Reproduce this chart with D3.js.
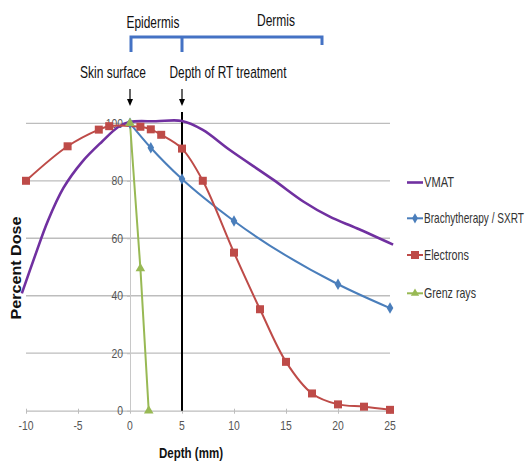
<!DOCTYPE html>
<html><head><meta charset="utf-8">
<script src="https://cdn.jsdelivr.net/npm/d3@7"></script>
<style>body{margin:0;background:#fff}svg{display:block}</style>
</head><body><svg id="c" width="528" height="462"></svg>
<script>
const xTicks = [-10,-5,0,5,10,15,20,25];
const yTicks = [0,20,40,60,80,100];
const seriesNames = ["VMAT","Brachytherapy / SXRT","Electrons","Grenz rays"];
const vmatX = [-10.4,-9.1,-7.9,-6.4,-4.6,-2.7,-1.1,0,2.5,5,7,9.6,13.8,16.7,19.2,21.8,25.3];
const vmatY = [40.8,54.2,66,77.5,86.6,93.6,98.8,100.5,100.7,100.8,97.7,90.7,80.3,72.7,67.5,63.5,57.8];
const brachyX = [0,2,5,10,20,25];
const brachyY = [100,91.5,80.6,66,44,35.7];
const electronX = [-10,-6,-3,-2,1,2,3,5,7,10,12.5,15,17.5,20,22.5,25];
const electronY = [80,92,97.8,99,98.8,97.9,96,91.2,80,55,35.3,17,6,2.2,1.4,0.3];
const grenzX = [0,1,1.8];
const grenzY = [100,49.5,0];
const topLabels = ["Epidermis","Dermis","Skin surface","Depth of RT treatment"];

const svg = d3.select("#c");
const x = d3.scaleLinear().domain([-10,25]).range([26,390]);
const y = d3.scaleLinear().domain([0,100]).range([410.7,123.3]);
const font = "'Liberation Sans',Arial,sans-serif";

// text squeezed horizontally to a target width via transform
function label(parent, tx, ty, str, size, width, anchor, opts){
  const g = parent.append("g");
  const t = g.append("text").attr("x",0).attr("y",0)
    .attr("font-family",font).attr("font-size",size).attr("text-anchor",anchor||"start")
    .attr("fill",(opts&&opts.fill)||"#111").attr("font-weight",(opts&&opts.bold)?"bold":"normal")
    .attr("dy",(opts&&opts.dy)||null).text(str);
  const w = t.node().getComputedTextLength();
  const k = width ? width/w : ((opts&&opts.k)||1);
  const rot = (opts&&opts.rot)?` rotate(${opts.rot})`:"";
  g.attr("transform",`translate(${tx},${ty})${rot} scale(${k},1)`);
  return g;
}

// gridlines
svg.append("g").selectAll("line").data(yTicks.filter(d=>d>0)).join("line")
  .attr("x1",x(-10)).attr("x2",x(25)).attr("y1",d=>y(d)).attr("y2",d=>y(d))
  .attr("stroke","#bdbdbd").attr("stroke-width",1.3);

// x axis at y=0
const xa = svg.append("g").attr("transform",`translate(0,${y(0)})`)
  .call(d3.axisBottom(x).tickValues(xTicks).tickSize(4).tickSizeOuter(0).tickFormat(""));
xa.select(".domain").attr("stroke","#bdbdbd").attr("stroke-width",1.3);
xa.selectAll(".tick line").attr("stroke","#bdbdbd").attr("y1",-2).attr("y2",3);
xTicks.forEach(v=>label(svg, x(v), y(0)+19, String(v), 13, null, "middle", {fill:"#555", k:0.8}));

// y axis at x=0
const ya = svg.append("g").attr("transform",`translate(${x(0)},0)`)
  .call(d3.axisLeft(y).tickValues(yTicks).tickSize(3).tickSizeOuter(0).tickFormat(""));
ya.select(".domain").attr("stroke","#c8c8c8").attr("stroke-width",1);
ya.selectAll(".tick line").attr("stroke","#bdbdbd");
yTicks.forEach(v=>label(svg, x(0)-7, y(v), String(v), 13, null, "end", {fill:"#555", k:0.8, dy:"0.35em"}));

// vertical line at 5 mm
svg.append("line").attr("x1",x(5)).attr("x2",x(5)).attr("y1",112).attr("y2",y(0))
  .attr("stroke","#000").attr("stroke-width",2);

const line = d3.line().x(d=>x(d[0])).y(d=>y(d[1]));
const zip = (a,b)=>a.map((v,i)=>[v,b[i]]);
const colors = ["#7030a0","#4a7ebb","#be4b48","#98b954"];

svg.append("path").datum(zip(vmatX,vmatY)).attr("d",line.curve(d3.curveCatmullRom.alpha(0.5)))
  .attr("fill","none").attr("stroke",colors[0]).attr("stroke-width",2.6);
svg.append("path").datum(zip(brachyX,brachyY)).attr("d",line.curve(d3.curveMonotoneX))
  .attr("fill","none").attr("stroke",colors[1]).attr("stroke-width",2);
svg.append("path").datum(zip(electronX,electronY)).attr("d",line.curve(d3.curveCatmullRom))
  .attr("fill","none").attr("stroke",colors[2]).attr("stroke-width",2);
svg.append("path").datum(zip(grenzX,grenzY)).attr("d",line.curve(d3.curveLinear))
  .attr("fill","none").attr("stroke",colors[3]).attr("stroke-width",2);

// markers
svg.append("g").selectAll("path").data(zip(brachyX,brachyY)).join("path")
  .attr("d",d3.symbol(d3.symbolDiamond,38)).attr("transform",d=>`translate(${x(d[0])},${y(d[1])})`)
  .attr("fill",colors[1]);
svg.append("g").selectAll("rect").data(zip(electronX,electronY)).join("rect")
  .attr("x",d=>x(d[0])-4).attr("y",d=>y(d[1])-4).attr("width",8).attr("height",8)
  .attr("fill",colors[2]);
svg.append("g").selectAll("path").data(zip(grenzX,grenzY)).join("path")
  .attr("d",d3.symbol(d3.symbolTriangle,40)).attr("transform",d=>`translate(${x(d[0])},${y(d[1])})`)
  .attr("fill",colors[3]);

// legend
const lg = svg.append("g");
const ly = [182.5,218.3,255,293.3];
const lw = [30,100,45,52];
seriesNames.forEach((n,i)=>{
  lg.append("line").attr("x1",407).attr("x2",423).attr("y1",ly[i]).attr("y2",ly[i])
    .attr("stroke",colors[i]).attr("stroke-width",i===0?2.6:2);
  if(i===1) lg.append("path").attr("d",d3.symbol(d3.symbolDiamond,30)).attr("transform",`translate(415,${ly[i]})`).attr("fill",colors[i]);
  if(i===2) lg.append("rect").attr("x",411).attr("y",ly[i]-4).attr("width",8).attr("height",8).attr("fill",colors[i]);
  if(i===3) lg.append("path").attr("d",d3.symbol(d3.symbolTriangle,30)).attr("transform",`translate(415,${ly[i]})`).attr("fill",colors[i]);
  label(lg, 424, ly[i], n, 14, lw[i], "start", {fill:"#333", dy:"0.35em"});
});

// axis titles
label(svg, 21, 268, "Percent Dose", 15, 103, "middle", {bold:true, rot:-90});
label(svg, 191, 458, "Depth (mm)", 15, 64, "middle", {bold:true});

// bracket
svg.append("path").attr("d",`M${x(0)+1},52 V37 H322 V45 M${x(5)},37 V52`)
  .attr("fill","none").attr("stroke","#4472c4").attr("stroke-width",3);

// top labels
const tl = [[153,28],[276,26],[113,78],[228,78]];
const tw = [53,38,66,117];
topLabels.forEach((t,i)=>label(svg, tl[i][0], tl[i][1], t, 16, tw[i], "middle"));

// arrows
[0,5].forEach(v=>{
  svg.append("line").attr("x1",x(v)).attr("x2",x(v)).attr("y1",89).attr("y2",102)
    .attr("stroke","#000").attr("stroke-width",1.2);
  svg.append("path").attr("d",`M${x(v)-3},99 L${x(v)+3},99 L${x(v)},106 Z`).attr("fill","#000");
});
</script></body></html>
